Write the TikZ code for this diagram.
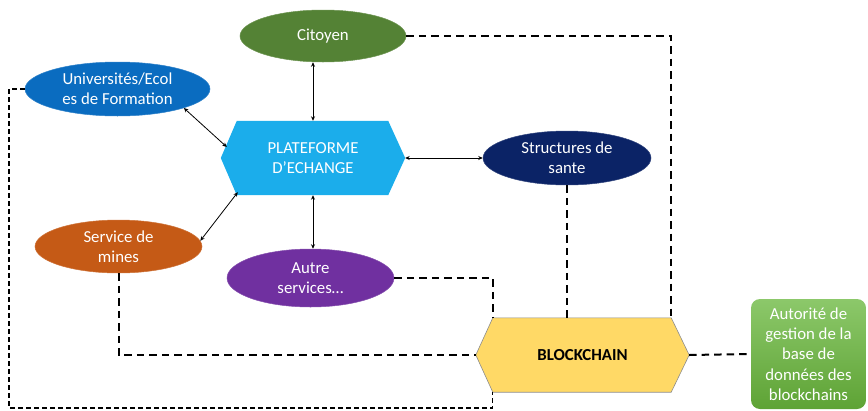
\documentclass[tikz,border=0pt]{standalone}
\usepackage{fontspec}
\setmainfont{Carlito}
\usetikzlibrary{shapes.geometric,arrows.meta,calc,backgrounds}

\definecolor{cgreen}{HTML}{548235}
\definecolor{cblue}{HTML}{0A6CC0}
\definecolor{cplat}{HTML}{1BADEB}
\definecolor{cnavy}{HTML}{0B2366}
\definecolor{corange}{HTML}{C55A16}
\definecolor{cpurple}{HTML}{7030A0}
\definecolor{cgold}{HTML}{FFD966}
\definecolor{cauthtop}{HTML}{8CC86A}
\definecolor{cauthbot}{HTML}{5EA335}

\tikzset{
  txt/.style={font=\fontsize{16.8}{20.3}\selectfont, align=center, text=white},
  oval/.style={txt, ellipse, inner sep=0pt, draw=#1!85!white, line width=0.5pt, fill=#1},
  hexbox/.style={txt, rectangle, inner sep=0pt},
  arr/.style={{Stealth[length=4.5pt,width=4pt]}-{Stealth[length=4.5pt,width=4pt]}, line width=0.8pt},
  link/.style={line width=2pt, dash pattern=on 7.5pt off 5pt},
  thinlink/.style={line width=1.2pt, dash pattern=on 5pt off 3pt},
}

\begin{document}
\begin{tikzpicture}[x=1pt, y=-1pt]
\useasboundingbox (0,0) rectangle (868,410);

% actors
\node[oval=cgreen, minimum width=166pt, minimum height=52pt] (cit) at (323,36) {Citoyen};
\node[oval=cblue, minimum width=185pt, minimum height=54pt] (univ) at (117.5,89) {Universités/Ecol\\es de Formation};
\node[oval=cnavy, minimum width=168pt, minimum height=54pt] (struct) at (567,158) {Structures de\\sante};
\node[oval=corange, minimum width=167pt, minimum height=53pt] (mines) at (118.5,246.5) {Service de\\mines};
\node[oval=cpurple, minimum width=167pt, minimum height=58pt] (autre) at (310.5,278) {Autre\\services…};

% hexagonal hubs
\node[hexbox, minimum width=184pt, minimum height=74pt] (plat) at (313,158) {PLATEFORME\\D’ECHANGE};
\node[hexbox, minimum width=213pt, minimum height=74pt, text=black, font=\fontsize{16.8}{20.3}\selectfont\bfseries] (block) at (582.5,355) {BLOCKCHAIN};

\begin{scope}[on background layer]
  \fill[cplat] (plat.west) -- ($(plat.north west)+(16,0)$) -- ($(plat.north east)+(-17,0)$)
    -- (plat.east) -- ($(plat.south east)+(-17,0)$) -- ($(plat.south west)+(16,0)$) -- cycle;
  \filldraw[fill=cgold, draw=black!45, line width=0.6pt] (block.west) -- ($(block.north west)+(17,0)$) -- ($(block.north east)+(-18,0)$)
    -- (block.east) -- ($(block.south east)+(-18,0)$) -- ($(block.south west)+(17,0)$) -- cycle;
\end{scope}

% database authority
\node[txt, rectangle, rounded corners=9pt, minimum width=115pt, minimum height=110pt, inner sep=0pt,
      top color=cauthtop, bottom color=cauthbot] (auth) at (808.5,354) {Autorité de\\gestion de la\\base de\\données des\\blockchains};

% exchanges with the platform
\draw[arr] (plat.north) -- (plat.north |- cit.south);
\draw[arr] (univ.-16) -- ($(plat.west)+(6,-11)$);
\draw[arr] ($(plat.south west)+(17,-3)$) -- (mines.4);
\draw[arr] (plat.south) -- (plat.south |- autre.north);
\draw[arr] (plat.east) -- (struct.west);

% links to the blockchain
\draw[link] (cit.east) -| ($(block.north east)+(-18,0)$);
\draw[link] (struct.south) -- (struct.south |- block.north);
\draw[link] (autre.east) -| ($(block.north west)+(17,0)$);
\draw[link] (mines.south) |- (block.west);
\coordinate (loop) at (9,408);
\draw[thinlink] (univ.west) -| (loop) -| ($(block.south west)+(17,0)$);
\draw[link] (block.east) -- (auth.west);
\end{tikzpicture}
\end{document}
